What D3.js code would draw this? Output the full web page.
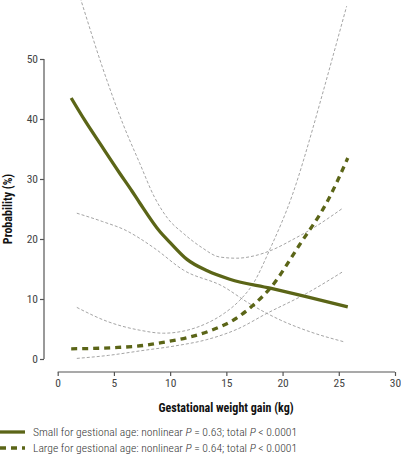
<!DOCTYPE html>
<html>
<head>
<meta charset="utf-8">
<script src="https://cdn.jsdelivr.net/npm/d3@7"></script>
<style>
  html, body { margin: 0; padding: 0; background: #fff; }
  svg { display: block; }
  text { font-family: "Liberation Sans Narrow", "Roboto Condensed", "Arial Narrow", "Liberation Sans", sans-serif; }
</style>
</head>
<body>
<script>
// ---- data ----
const xTicks = [0, 5, 10, 15, 20, 25, 30];
const yTicks = [0, 10, 20, 30, 40, 50];

// Small for gestational age (solid)
const sgaGain = [1.2, 2.4, 3.8, 5.5, 6.6, 7.3, 9.1, 10.0, 11.5, 13.3, 15.3, 18.9, 22.1, 25.8];
const sgaProb = [43.5, 39.8, 35.8, 31.0, 28.0, 26.0, 21.2, 19.4, 16.6, 14.7, 13.3, 11.8, 10.4, 8.7];
// SGA confidence bounds
const sgaUpperGain = [1.2, 2.07, 4.0, 5.8, 7.3, 8.6, 9.8, 11.2, 12.8, 14.4, 15.9, 17.5, 19.1, 20.9, 22.7, 25.4];
const sgaUpperProb = [65.0, 59.8, 48.5, 39.2, 32.6, 27.0, 23.4, 20.9, 18.6, 17.0, 16.8, 17.2, 18.2, 19.9, 21.8, 25.2];
const sgaLowerGain = [1.7, 4.0, 6.1, 7.3, 8.65, 11.2, 14.7, 17.0, 19.8, 22.5, 25.4];
const sgaLowerProb = [24.3, 22.9, 21.4, 20.1, 18.4, 14.8, 12.1, 9.3, 6.5, 4.5, 2.9];

// Large for gestational age (dashed)
const lgaGain = [1.2, 5.1, 7.8, 8.8, 11.6, 13.4, 15.9, 17.4, 18.9, 21.5, 24.05, 25.8];
const lgaProb = [1.7, 1.9, 2.3, 2.6, 3.6, 4.6, 6.8, 9.0, 11.8, 19.0, 26.5, 33.5];
// LGA confidence bounds
const lgaUpperGain = [1.7, 4.5, 7.3, 9.4, 11.3, 13.2, 14.8, 16.2, 17.4, 18.9, 20.9, 22.7, 23.3, 25.7];
const lgaUpperProb = [8.6, 6.2, 4.8, 4.3, 4.7, 5.9, 7.6, 9.8, 12.6, 18.4, 27.5, 38.5, 42.5, 58.8];
const lgaLowerGain = [1.7, 4.5, 7.5, 10.5, 13.2, 16.0, 18.6, 22.1, 25.4];
const lgaLowerProb = [0.1, 0.6, 1.4, 2.2, 3.2, 5.0, 7.6, 10.9, 14.6];

const legendLabels = [
  ["Small for gestional age: nonlinear ", "P", " = 0.63; total ", "P", " < 0.0001"],
  ["Large for gestional age: nonlinear ", "P", " = 0.64; total ", "P", " < 0.0001"]
];

// ---- drawing ----
const W = 401, H = 454;
const olive = "#5b6517";
const svg = d3.select("body").append("svg").attr("width", W).attr("height", H);

const x = d3.scaleLinear().domain([0, 30]).range([57.7, 395]);
const y = d3.scaleLinear().domain([0, 50]).range([359, 59]);

const axisColor = "#555";
const yAxis = svg.append("g").attr("transform", "translate(44,0)")
  .call(d3.axisLeft(y).tickValues(yTicks).tickSize(4).tickPadding(2).tickFormat(d3.format("d")));
const xAxis = svg.append("g").attr("transform", "translate(0,372)")
  .call(d3.axisBottom(x).tickValues(xTicks).tickSize(4).tickPadding(3).tickFormat(d3.format("d")));
[yAxis, xAxis].forEach(a => {
  a.select(".domain").attr("stroke", axisColor).attr("stroke-width", 1.2);
  a.selectAll(".tick line").attr("stroke", axisColor).attr("stroke-width", 1.2);
  a.selectAll(".tick text").attr("fill", "#444").style("font-size", "11.5px")
    .style("font-family", '"Liberation Sans Narrow", "Roboto Condensed", "Arial Narrow", sans-serif');
});
yAxis.select(".domain").attr("d", `M0,${y(50)}V${y(0)}`);
xAxis.select(".domain").attr("d", `M${x(0)},0H${x(30)}`);

const line = d3.line().x(d => x(d[0])).y(d => y(d[1])).curve(d3.curveMonotoneX);
const zip = (a, b) => a.map((v, i) => [v, b[i]]);

// confidence bounds
[[sgaUpperGain, sgaUpperProb], [sgaLowerGain, sgaLowerProb],
 [lgaUpperGain, lgaUpperProb], [lgaLowerGain, lgaLowerProb]].forEach(([gx, gy]) => {
  svg.append("path").datum(zip(gx, gy)).attr("d", line)
    .attr("fill", "none").attr("stroke", "#9a9a9a").attr("stroke-width", 0.9)
    .attr("stroke-dasharray", "3,2");
});

// main lines
svg.append("path").datum(zip(sgaGain, sgaProb)).attr("d", line)
  .attr("fill", "none").attr("stroke", olive).attr("stroke-width", 3.3);
svg.append("path").datum(zip(lgaGain, lgaProb)).attr("d", line)
  .attr("fill", "none").attr("stroke", olive).attr("stroke-width", 3.3)
  .attr("stroke-dasharray", "6,5");

// axis titles
svg.append("text").attr("x", 226).attr("y", 412).attr("text-anchor", "middle")
  .style("font-size", "12px").style("font-weight", "bold").attr("fill", "#111")
  .text("Gestational weight gain (kg)");
svg.append("text").attr("transform", "translate(12,209) rotate(-90)").attr("text-anchor", "middle")
  .style("font-size", "12px").style("font-weight", "bold").attr("fill", "#111")
  .text("Probability (%)");

// legend
const legY = [432, 448];
legendLabels.forEach((parts, i) => {
  const g = svg.append("g");
  g.append("line").attr("x1", 0).attr("x2", 25).attr("y1", legY[i]).attr("y2", legY[i])
    .attr("stroke", olive).attr("stroke-width", 3.3)
    .attr("stroke-dasharray", i === 1 ? "6,5" : null);
  const t = g.append("text").attr("x", 33).attr("y", legY[i] + 4).attr("fill", "#333")
    .style("font-size", "11.6px").style("font-weight", "300");
  parts.forEach(p => {
    t.append("tspan").style("font-style", p === "P" ? "italic" : "normal").text(p);
  });
});
</script>
</body>
</html>
